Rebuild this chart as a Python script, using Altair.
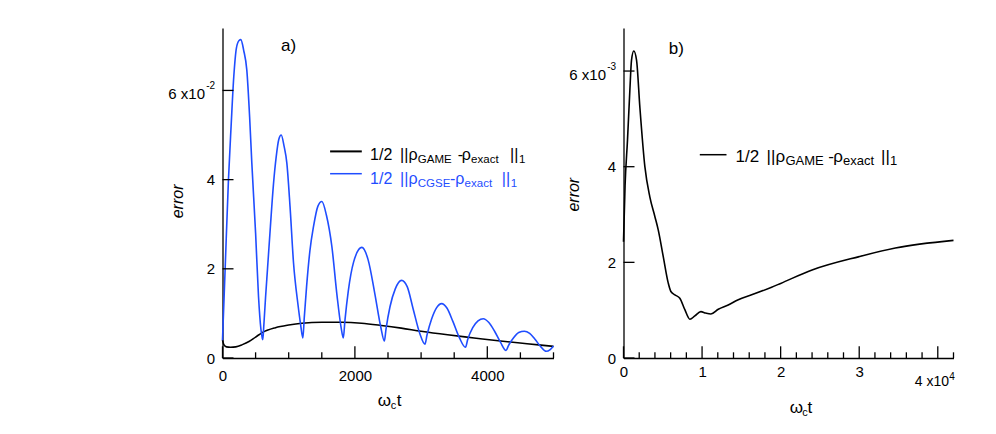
import altair as alt
import pandas as pd

FONT = "Liberation Sans"
BLUE = "#1f4dff"

# ---------------- data: panel a ----------------
a_blue_t = [0, 20, 40, 90, 130, 170, 210, 250, 277, 320, 367, 410, 443, 500, 544, 580, 600, 609,
            625, 650, 680, 720, 770, 811, 850, 887, 930, 972, 1020, 1073, 1140, 1180, 1214,
            1235, 1270, 1320, 1375, 1440, 1501, 1570, 1652, 1730, 1790, 1825,
            1850, 1900, 1980, 2105, 2200, 2300, 2390, 2445,
            2470, 2530, 2610, 2705, 2790, 2880, 2980, 3058,
            3090, 3160, 3235, 3310, 3390, 3480, 3580, 3670,
            3705, 3780, 3860, 3940, 4020, 4110, 4200, 4283,
            4320, 4400, 4475, 4560, 4640, 4720, 4810, 4890,
            4950, 5000]
a_blue_e = [0.0040, 0.0120, 0.0200, 0.0400, 0.0520, 0.0630, 0.0695, 0.0712, 0.0714, 0.0690, 0.0646, 0.0540, 0.0437, 0.0280, 0.0138, 0.0065, 0.0045, 0.0041,
            0.0075, 0.0135, 0.0200, 0.0287, 0.0390, 0.0451, 0.0490, 0.0500, 0.0475, 0.0437, 0.0340, 0.0213, 0.0120, 0.0075, 0.0045,
            0.0090, 0.0160, 0.0240, 0.0295, 0.0340, 0.0351, 0.0320, 0.0250, 0.0140, 0.0070, 0.0045,
            0.0085, 0.0150, 0.0215, 0.0248, 0.0220, 0.0145, 0.0070, 0.0038,
            0.0065, 0.0115, 0.0155, 0.0174, 0.0160, 0.0110, 0.0055, 0.0031,
            0.0052, 0.0088, 0.0113, 0.0122, 0.0112, 0.0082, 0.0045, 0.0024,
            0.0042, 0.0068, 0.0083, 0.0088, 0.0080, 0.0060, 0.0035, 0.0017,
            0.0028, 0.0046, 0.0057, 0.0060, 0.0055, 0.0042, 0.0025, 0.0015,
            0.0019, 0.0027]

a_black_t = [0, 20, 60, 120, 200, 300, 400, 500, 600, 800, 1000, 1200, 1500, 1800, 2100,
             2400, 2700, 3000, 3400, 3800, 4200, 4600, 5000]
a_black_e = [0.0040, 0.0030, 0.0025, 0.0024, 0.0025, 0.0030, 0.0037, 0.0047, 0.0057, 0.0068,
             0.0074, 0.0078, 0.0080, 0.0080, 0.0078, 0.0073, 0.0067, 0.0060, 0.0052, 0.0045,
             0.0038, 0.0032, 0.0026]

a_x_label_vals = [0, 2000, 4000]
a_x_major = [0, 2000, 4000]
a_x_minor = [500, 1000, 1500, 2500, 3000, 3500, 4500, 5000]
a_y_tick_vals = [0, 0.02, 0.04, 0.06]
a_y_label_vals = [0, 0.02, 0.04]
a_y_label_texts = ["0", "2", "4"]
a_y_exp_val = [0.06]
a_y_exp_main = ["6 x10"]
a_y_exp_sup = ["-2"]

# ---------------- data: panel b (time in units of 1e4) ----------------
b_t = [0, 0.02, 0.051, 0.081, 0.102, 0.131, 0.166, 0.208, 0.272, 0.335,
       0.399, 0.442, 0.506, 0.569, 0.603, 0.654, 0.717, 0.781, 0.845, 0.908,
       0.985, 1.045, 1.112, 1.206, 1.333, 1.461, 1.631, 1.885, 2.0, 2.4,
       3.0, 3.46, 4.2]
b_e = [0.00243, 0.0036, 0.00456, 0.0056, 0.00623, 0.00642, 0.00623, 0.00525, 0.0040, 0.00337,
       0.00296, 0.00268, 0.00212, 0.00157, 0.00139, 0.00132, 0.00125, 0.00101, 0.00081, 0.00088,
       0.00097, 0.00094, 0.00092, 0.00102, 0.00111, 0.00122, 0.00132, 0.00148, 0.00156, 0.00184,
       0.00212, 0.0023, 0.00246]

b_x_label_vals = [0, 1, 2, 3]
b_x_major = [0, 1, 2, 3, 4]
b_x_minor = [0.2, 0.4, 0.6, 0.8, 1.2, 1.4, 1.6, 1.8, 2.2, 2.4, 2.6, 2.8,
             3.2, 3.4, 3.6, 3.8, 4.2]
b_x_exp_val = [4]
b_x_exp_main = ["4 x10"]
b_x_exp_sup = ["4"]
b_y_tick_vals = [0, 0.002, 0.004, 0.006]
b_y_label_vals = [0, 0.002, 0.004]
b_y_label_texts = ["0", "2", "4"]
b_y_exp_val = [0.006]
b_y_exp_main = ["6 x10"]
b_y_exp_sup = ["-3"]

legend_a = [
    # (text, x, line, sub)
    ("1/2", 147.6, 0, False), ("||", 177.6, 0, False), ("\u03c1", 186.0, 0, False),
    ("GAME", 195.3, 0, True), ("-", 235.3, 0, False), ("\u03c1", 239.3, 0, False),
    ("exact", 248.6, 0, True), ("||", 287.6, 0, False), ("1", 296.6, 0, True),
    ("1/2", 147.6, 1, False), ("||", 177.6, 1, False), ("\u03c1", 186.0, 1, False),
    ("CGSE", 195.3, 1, True), ("-", 227.5, 1, False), ("\u03c1", 232.8, 1, False),
    ("exact", 242.1, 1, True), ("||", 279.3, 1, False), ("1", 288.3, 1, True),
]
legend_b = [
    ("1/2", 112.0, 0, False), ("||", 143.0, 0, False), ("\u03c1", 152.0, 0, False),
    ("GAME", 162.0, 0, True), ("-", 204.7, 0, False), ("\u03c1", 209.7, 0, False),
    ("exact", 219.6, 0, True), ("||", 257.5, 0, False), ("1", 266.5, 0, True),
]

W_A, W_B, H = 331, 330, 330
LBL = 15


def label_expr(vals, labels):
    expr = "''"
    for v, lab in reversed(list(zip(vals, labels))):
        expr = f"abs(datum.value - {v}) < 1e-9 ? '{lab}' : ({expr})"
    return expr


def txt(s, x, y, size, color="black", align="left", baseline="alphabetic",
        angle=0, style="normal"):
    return alt.Chart(alt.Data(values=[{"s": s}])).mark_text(
        align=align, baseline=baseline, fontSize=size, font=FONT, color=color,
        angle=angle, fontStyle=style
    ).encode(x=alt.value(x), y=alt.value(y), text="s:N")


def axis_common(**kw):
    return alt.Axis(ticks=False, grid=False, domainColor="black", domainWidth=1.3,
                    labelFont=FONT, labelFontSize=LBL, labelColor="black",
                    labelFlush=False, labelOverlap=False, title=None, **kw)


def panel(lines, xdom, ydom, xlab_vals, ylab_vals, ylab_texts, ytick_vals,
          y_exp_val, y_exp_main, y_exp_sup, x_major, x_minor, xlabpad):
    xs = alt.Scale(domain=xdom, nice=False, zero=False)
    ys = alt.Scale(domain=ydom, nice=False)
    xax = axis_common(values=xlab_vals, labelPadding=xlabpad, format="d")
    yax = axis_common(values=ylab_vals, labelPadding=8,
                      labelExpr=label_expr(ylab_vals, ylab_texts))
    layers = []
    for df, color in lines:
        layers.append(alt.Chart(df).mark_line(color=color, strokeWidth=1.6,
                                              interpolate="monotone").encode(
            x=alt.X("t:Q", scale=xs, axis=xax), y=alt.Y("e:Q", scale=ys, axis=yax)))
    # y ticks (inward)
    layers.append(alt.Chart(pd.DataFrame({"e": ytick_vals})).mark_rule(
        color="black", strokeWidth=1.3).encode(
        y=alt.Y("e:Q", scale=ys, axis=yax), x=alt.value(0), x2=alt.value(11)))
    # x ticks (inward)
    layers.append(alt.Chart(pd.DataFrame({"t": x_major})).mark_rule(
        color="black", strokeWidth=1.3).encode(
        x=alt.X("t:Q", scale=xs, axis=xax), y=alt.value(H), y2=alt.value(H - 11.7)))
    layers.append(alt.Chart(pd.DataFrame({"t": x_minor})).mark_rule(
        color="black", strokeWidth=1.3).encode(
        x=alt.X("t:Q", scale=xs, axis=xax), y=alt.value(H), y2=alt.value(H - 5.7)))
    # exponent label on the y axis
    df_exp = pd.DataFrame({"e": y_exp_val, "m": y_exp_main, "s": y_exp_sup})
    layers.append(alt.Chart(df_exp).mark_text(
        align="right", baseline="middle", fontSize=LBL, font=FONT, color="black", dy=4).encode(
        y=alt.Y("e:Q", scale=ys, axis=yax), x=alt.value(-17.5), text="m:N"))
    layers.append(alt.Chart(df_exp).mark_text(
        align="right", baseline="alphabetic", fontSize=10, font=FONT, color="black", dy=-1).encode(
        y=alt.Y("e:Q", scale=ys, axis=yax), x=alt.value(-7.4), text="s:N"))
    return layers, xs, xax


# ---------------- panel a ----------------
df_a_black = pd.DataFrame({"t": a_black_t, "e": a_black_e})
df_a_blue = pd.DataFrame({"t": a_blue_t, "e": a_blue_e})
la, xs_a, xax_a = panel([(df_a_black, "black"), (df_a_blue, BLUE)], [0, 5000], [0, 0.074],
                        a_x_label_vals, a_y_label_vals, a_y_label_texts, a_y_tick_vals,
                        a_y_exp_val, a_y_exp_main, a_y_exp_sup, a_x_major, a_x_minor, 10)

la.append(alt.Chart(alt.Data(values=[{}])).mark_rule(color="black", strokeWidth=2).encode(
    x=alt.value(107.6), x2=alt.value(139.3), y=alt.value(123.4)))
la.append(alt.Chart(alt.Data(values=[{}])).mark_rule(color=BLUE, strokeWidth=1.5).encode(
    x=alt.value(107.6), x2=alt.value(139.3), y=alt.value(145.7)))
for s, x, line, sub in legend_a:
    base = 131.5 + 24 * line
    col = "black" if line == 0 else BLUE
    if sub:
        la.append(txt(s, x, base + 3, 11.5, color=col))
    else:
        la.append(txt(s, x, base, 16, color=col))
la.append(txt("a)", 58.6, 23, 17))
la.append(txt("error", -45, 173.4, 16, angle=270, align="center", baseline="middle", style="italic"))
la.append(txt("\u03c9", 155.3, 378, 17))
la.append(txt("c", 168.3, 381, 11))
la.append(txt("t", 174.3, 378, 17))
panel_a = alt.layer(*la).properties(width=W_A, height=H)

# ---------------- panel b ----------------
df_b = pd.DataFrame({"t": b_t, "e": b_e})
lb, xs_b, xax_b = panel([(df_b, "black")], [0, 4.2], [0, 0.0069],
                        b_x_label_vals, b_y_label_vals, b_y_label_texts, b_y_tick_vals,
                        b_y_exp_val, b_y_exp_main, b_y_exp_sup, b_x_major, b_x_minor, 6)
df_bx = pd.DataFrame({"t": b_x_exp_val, "m": b_x_exp_main, "s": b_x_exp_sup})
lb.append(alt.Chart(df_bx).mark_text(
    align="left", baseline="alphabetic", fontSize=14, font=FONT, color="black", dx=-23).encode(
    x=alt.X("t:Q", scale=xs_b, axis=xax_b), y=alt.value(358.4), text="m:N"))
lb.append(alt.Chart(df_bx).mark_text(
    align="left", baseline="alphabetic", fontSize=10, font=FONT, color="black", dx=11.5).encode(
    x=alt.X("t:Q", scale=xs_b, axis=xax_b), y=alt.value(351.5), text="s:N"))
lb.append(alt.Chart(alt.Data(values=[{}])).mark_rule(color="black", strokeWidth=1.5).encode(
    x=alt.value(76.3), x2=alt.value(103), y=alt.value(126.7)))
for s, x, line, sub in legend_b:
    if sub:
        lb.append(txt(s, x, 137, 13))
    else:
        lb.append(txt(s, x, 134, 17))
lb.append(txt("b)", 45.3, 26, 17))
lb.append(txt("error", -49.5, 166.7, 16, angle=270, align="center", baseline="middle", style="italic"))
lb.append(txt("\u03c9", 166.3, 384.5, 17))
lb.append(txt("c", 178.7, 387.5, 11))
lb.append(txt("t", 184, 384.5, 17))
panel_b = alt.layer(*lb).properties(width=W_B, height=H)

chart = alt.hconcat(panel_a, panel_b, spacing=70, bounds="flush").properties(
    padding={"left": 159.5, "top": 20, "right": 5, "bottom": 5}
).configure_view(stroke=None)

chart.save("out.html", embed_options={"renderer": "svg", "actions": False})
